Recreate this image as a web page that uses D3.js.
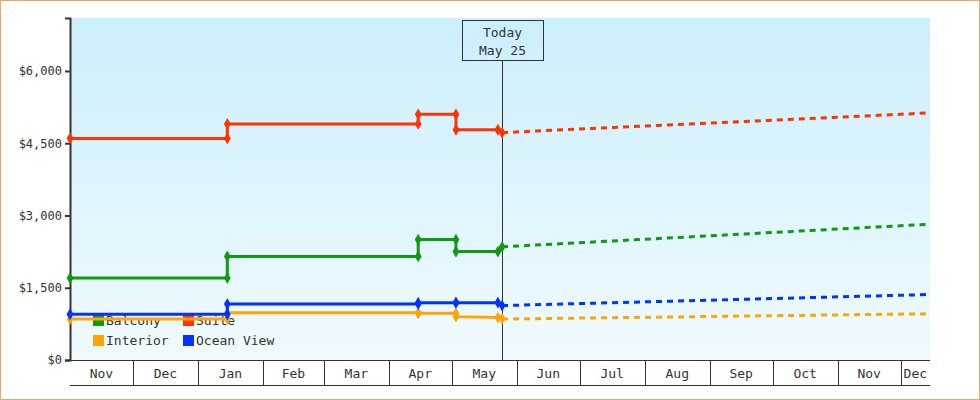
<!DOCTYPE html>
<html><head><meta charset="utf-8">
<script src="https://cdn.jsdelivr.net/npm/d3@7"></script>
<style>body{margin:0;background:#fff}svg{display:block}text{font-family:"DejaVu Sans Mono",monospace;fill:#333}</style>
</head><body><svg id="c" width="980" height="400"></svg>
<script>
const seriesNames = ["Balcony", "Suite", "Interior", "Ocean View"];
const seriesColors = ["#119911", "#ff3300", "#ffa500", "#0033ff"];
const dates = ["2023-11-01","2024-01-15","2024-01-15","2024-04-15","2024-04-15","2024-05-03","2024-05-03","2024-05-23","2024-05-25"];
const balcony = [1700,1700,2150,2150,2500,2500,2250,2250,2350];
const suite = [4600,4600,4900,4900,5100,5100,4780,4780,4720];
const interior = [850,850,980,980,970,970,900,880,860];
const oceanView = [950,950,1160,1160,1190,1190,1190,1190,1130];
const forecastDates = ["2024-05-25","2024-12-15"];
const forecast = [[2350,2820],[4720,5130],[850,960],[1130,1360]];
const yTicks = [0,1500,3000,4500,6000];
const todayDate = "2024-05-25";

const svg = d3.select("#c");
const parse = d3.timeParse("%Y-%m-%d");
const m = {left:70, right:930, top:18, bottom:360};
const x = d3.scaleTime().domain([parse("2023-11-01"), parse("2024-12-15")]).range([m.left, m.right]);
const y = d3.scaleLinear().domain([0,7100]).range([m.bottom, m.top]);

svg.append("rect").attr("x",0.5).attr("y",0.5).attr("width",979).attr("height",399).attr("fill","#fff").attr("stroke","#e8a868");
const grad = svg.append("defs").append("linearGradient").attr("id","bg").attr("x1",0).attr("x2",0).attr("y1",0).attr("y2",1);
grad.append("stop").attr("offset","0%").attr("stop-color","#cbeffc");
grad.append("stop").attr("offset","100%").attr("stop-color","#f0fafe");
svg.append("rect").attr("x",m.left).attr("y",m.top).attr("width",m.right-m.left).attr("height",m.bottom-m.top).attr("fill","url(#bg)");

// y axis
const ya = svg.append("g").attr("transform",`translate(${m.left},0)`)
  .call(d3.axisLeft(y).tickValues(yTicks).tickSize(5).tickFormat(d => "$" + d3.format(",")(d)));
ya.select(".domain").attr("stroke","#333").attr("stroke-width",2);
ya.selectAll("line").attr("stroke","#333").attr("stroke-width",2);
ya.selectAll("text").style("font-family","DejaVu Sans Mono, monospace").style("font-size","12px").attr("fill","#333");

// x axis month boxes
const months = d3.timeMonth.range(parse("2023-11-01"), parse("2024-12-15"));
const xa = svg.append("g");
xa.append("line").attr("x1",m.left).attr("x2",m.right).attr("y1",m.bottom+0.5).attr("y2",m.bottom+0.5).attr("stroke","#333");
xa.append("line").attr("x1",m.left).attr("x2",m.right).attr("y1",385.5).attr("y2",385.5).attr("stroke","#333");
months.forEach((d,i) => {
  if (i > 0) xa.append("line").attr("x1",Math.round(x(d))+0.5).attr("x2",Math.round(x(d))+0.5).attr("y1",m.bottom).attr("y2",385).attr("stroke","#333");
  const e = Math.min(x(d3.timeMonth.offset(d,1)), m.right);
  xa.append("text").attr("x",(x(d)+e)/2).attr("y",378).attr("text-anchor","middle").style("font-size","13px").text(d3.timeFormat("%b")(d));
});

// legend (drawn below lines)
const lg = svg.append("g").attr("transform","translate(93,315)");
seriesNames.forEach((n,i) => {
  const g = lg.append("g").attr("transform",`translate(${(i%2)*90},${Math.floor(i/2)*20})`);
  g.append("rect").attr("width",11).attr("height",11).attr("fill",seriesColors[i]);
  g.append("text").attr("x",13).attr("y",10).style("font-size","13px").text(n);
});

// today marker
const tx = Math.round(x(parse(todayDate))) + 0.5;
svg.append("line").attr("x1",tx).attr("x2",tx).attr("y1",60).attr("y2",m.bottom).attr("stroke","#333");
svg.append("rect").attr("x",tx-40).attr("y",20.5).attr("width",81).attr("height",40).attr("fill","none").attr("stroke","#333");
svg.append("text").attr("x",tx).attr("y",37).attr("text-anchor","middle").style("font-size","13px").text("Today");
svg.append("text").attr("x",tx).attr("y",55).attr("text-anchor","middle").style("font-size","13px").text("May 25");

const all = [balcony, suite, interior, oceanView];
const line = d3.line().x(d => x(d[0])).y(d => y(d[1]));
const diamond = d3.symbol().type(d3.symbolDiamond).size(40);
all.forEach((vals,i) => {
  const pts = vals.map((v,j) => [parse(dates[j]), v]);
  svg.append("path").attr("d",line(pts)).attr("fill","none").attr("stroke",seriesColors[i]).attr("stroke-width",3);
  const fpts = forecast[i].map((v,j) => [parse(forecastDates[j]), v]);
  svg.append("path").attr("d",line(fpts)).attr("fill","none").attr("stroke",seriesColors[i]).attr("stroke-width",3).attr("stroke-dasharray","6,5");
  svg.selectAll(null).data(pts).enter().append("path").attr("d",diamond)
    .attr("transform",d => `translate(${x(d[0])},${y(d[1])})`).attr("fill",seriesColors[i]);
});
</script></body></html>
